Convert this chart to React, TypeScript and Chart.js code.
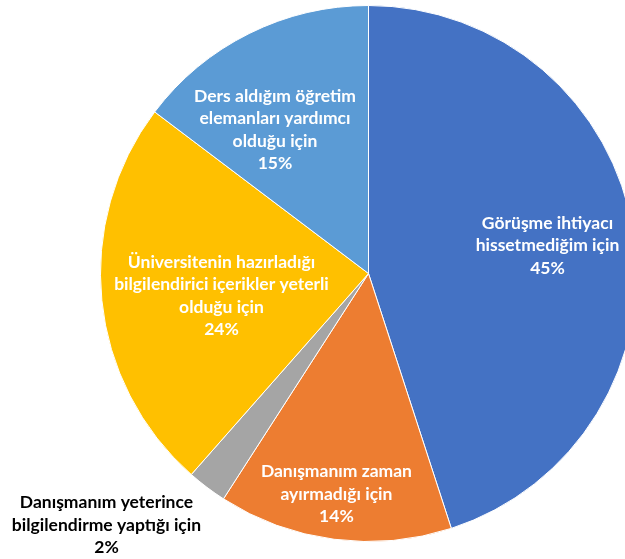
import React, { useEffect, useRef } from "react";
import { Chart, registerables } from "chart.js";

Chart.register(...registerables);

const categories: string[][] = [
  ["Görüşme ihtiyacı", "hissetmediğim için"],
  ["Danışmanım zaman", "ayırmadığı için"],
  ["Danışmanım yeterince", "bilgilendirme yaptığı için"],
  ["Üniversitenin hazırladığı", "bilgilendirici içerikler yeterli", "olduğu için"],
  ["Ders aldığım öğretim", "elemanları yardımcı", "olduğu için"],
];
const values: number[] = [45.0, 14.1, 2.4, 23.8, 14.7];
const colors: string[] = ["#4472C4", "#ED7D31", "#A5A5A5", "#FFC000", "#5B9BD5"];

// label placement: radial factor (of outer radius) and angle tweak (degrees)
const labelRadial: number[] = [0.676, 0.831, 1.355, 0.555, 0.639];
const labelAngleShift: number[] = [0.1, 0.9, 9.1, -2.94, -6.64];
const labelColors: string[] = ["#FFFFFF", "#FFFFFF", "#000000", "#FFFFFF", "#FFFFFF"];

const FONT = "bold 17.5px Lato, 'Open Sans', sans-serif";
const LINE_H = 22.4;

const labelPlugin = {
  id: "pieLabels",
  afterDatasetsDraw(chart: any) {
    const ctx = chart.ctx;
    const meta = chart.getDatasetMeta(0);
    const total = values.reduce((a, b) => a + b, 0);
    ctx.save();
    ctx.font = FONT;
    ctx.textAlign = "center";
    ctx.textBaseline = "middle";
    meta.data.forEach((arc: any, i: number) => {
      const { x, y, startAngle, endAngle, outerRadius } = arc.getProps(
        ["x", "y", "startAngle", "endAngle", "outerRadius"],
        true
      );
      const mid = (startAngle + endAngle) / 2 + (labelAngleShift[i] * Math.PI) / 180;
      const r = outerRadius * labelRadial[i];
      const cx = x + Math.cos(mid) * r;
      const cy = y + Math.sin(mid) * r;
      const pct = Math.round((values[i] / total) * 100) + "%";
      const lines = [...categories[i], pct];
      const top = cy - ((lines.length - 1) * LINE_H) / 2;
      ctx.fillStyle = labelColors[i];
      lines.forEach((ln, k) => ctx.fillText(ln, cx, top + k * LINE_H));
    });
    ctx.restore();
  },
};

export default function App() {
  const ref = useRef<HTMLCanvasElement | null>(null);
  useEffect(() => {
    if (!ref.current) return;
    const chart = new Chart(ref.current, {
      type: "pie",
      data: {
        labels: categories.map((c) => c.join(" ")),
        datasets: [
          {
            data: values,
            backgroundColor: colors,
            borderColor: "#FFFFFF",
            borderWidth: 1,
          },
        ],
      },
      options: {
        responsive: false,
        animation: false,
        layout: { padding: { left: 100, top: 5, right: 63, bottom: 17 } },
        plugins: {
          legend: { display: false },
          tooltip: { enabled: false },
        },
      },
      plugins: [labelPlugin],
    });
    return () => chart.destroy();
  }, []);
  return (
    <div
      style={{
        position: "fixed",
        left: 0,
        top: 0,
        width: 625,
        height: 559,
        overflow: "hidden",
        background: "#fff",
      }}
    >
      <canvas ref={ref} width={700} height={559} style={{ display: "block" }} />
    </div>
  );
}
